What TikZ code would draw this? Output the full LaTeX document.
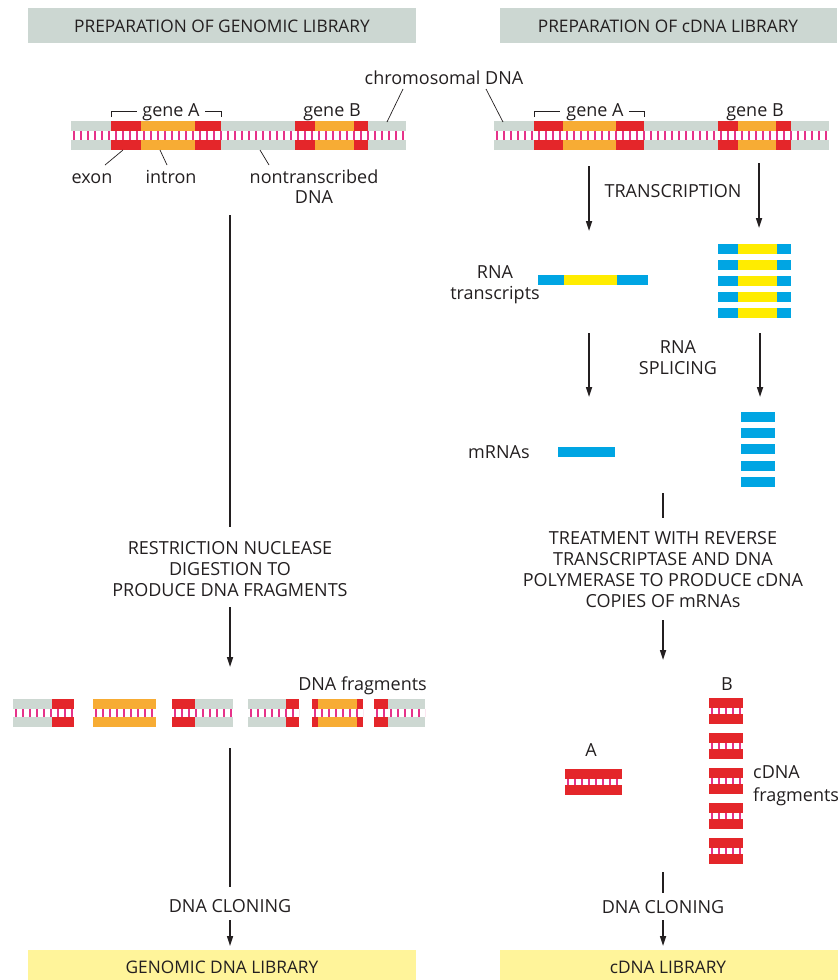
\documentclass[tikz,border=0pt]{standalone}
\usepackage{fontspec}
\setmainfont{Open Sans}
\usetikzlibrary{arrows.meta}
\definecolor{gband}{HTML}{CDD8D2}
\definecolor{exred}{HTML}{E4262A}
\definecolor{inorange}{HTML}{F7AC34}
\definecolor{rnablue}{HTML}{00A5E3}
\definecolor{rnayellow}{HTML}{FFEC00}
\definecolor{hdrgray}{HTML}{CCD7D2}
\definecolor{libyellow}{HTML}{FFF49A}
\definecolor{tickpink}{HTML}{E6338A}
\definecolor{ink}{HTML}{231F20}
\newcommand\dnabar[6]{%
  \fill[#6] (#1,#3) rectangle (#2,#3+#4);
  \fill[#6] (#1,#3+#4+#5) rectangle (#2,#3+2*#4+#5);
  \fill[white] (#1,#3+#4) rectangle (#2,#3+#4+#5);
  \draw[tickpink, line width=#5pt, dash pattern=on 1.6pt off 5.4pt, dash phase=-2pt] (#1,#3+#4+#5/2) -- (#2,#3+#4+#5/2);
}
\newcommand\dnaseg[6]{%
  \fill[#6] (#1,#3) rectangle (#2,#3+#4);
  \fill[#6] (#1,#3+#4+#5) rectangle (#2,#3+2*#4+#5);
}
\begin{document}
\begin{tikzpicture}[x=1pt,y=-1pt,
  txt/.style={font=\fontsize{18}{21}\selectfont, text=ink, inner sep=0pt, align=center},
  htxt/.style={txt, font=\fontsize{17.3}{21}\selectfont},
  hdr/.style={fill=hdrgray},
  lib/.style={fill=libyellow},
  flow/.style={draw=ink, line width=1.6pt},
  flowarrow/.style={flow, -{Triangle[length=10pt,width=6pt]}},
  lead/.style={draw=ink, line width=0.7pt},
  brk/.style={draw=ink, line width=1pt}]
\useasboundingbox (0,0) rectangle (840,980);
% headers
\fill[hdr] (28,8) rectangle (416,43);
\node[htxt] (hL) at (222,26) {PREPARATION OF GENOMIC LIBRARY};
\fill[hdr] (500,8) rectangle (837,43);
\node[htxt] (hR) at (668,26) {PREPARATION OF cDNA LIBRARY};
% bottom boxes
\fill[lib] (28,950) rectangle (416,980);
\node[htxt] (bL) at (222,967) {GENOMIC DNA LIBRARY};
\fill[lib] (500,950) rectangle (838,980);
\node[htxt] (bR) at (668,967) {cDNA LIBRARY};

% chromosomal DNA left
\dnabar{71}{406}{121}{10}{9}{gband}
\dnaseg{111}{141}{121}{10}{9}{exred}
\dnaseg{141}{195}{121}{10}{9}{inorange}
\dnaseg{195}{221}{121}{10}{9}{exred}
\dnaseg{295}{315}{121}{10}{9}{exred}
\dnaseg{315}{354}{121}{10}{9}{inorange}
\dnaseg{354}{368}{121}{10}{9}{exred}
% chromosomal DNA right
\dnabar{494}{829}{121}{10}{9}{gband}
\dnaseg{534}{563}{121}{10}{9}{exred}
\dnaseg{563}{616}{121}{10}{9}{inorange}
\dnaseg{616}{644}{121}{10}{9}{exred}
\dnaseg{718}{738}{121}{10}{9}{exred}
\dnaseg{738}{776}{121}{10}{9}{inorange}
\dnaseg{776}{791}{121}{10}{9}{exred}

% gene labels and brackets
\node[txt, anchor=base] (gAL) at (171,116) {gene A};
\node[txt, anchor=base] (gBL) at (332,116) {gene B};
\node[txt, anchor=base] (gAR) at (595,116) {gene A};
\node[txt, anchor=base] (gBR) at (755,116) {gene B};
\draw[brk] (111,117) -- (111,111) -- (137,111);
\draw[brk] (205,111) -- (221,111) -- (221,117);
\draw[brk] (534,117) -- (534,111) -- (560,111);
\draw[brk] (629,111) -- (644,111) -- (644,117);

% chromosomal DNA label
\node[txt, anchor=base] (chr) at (444,84) {chromosomal DNA};
\coordinate (chrL1) at (403,89); \coordinate (chrL2) at (387,122);
\coordinate (chrR1) at (486,89); \coordinate (chrR2) at (503,122);
\draw[lead] (chrL1) -- (chrL2);
\draw[lead] (chrR1) -- (chrR2);

% exon / intron / nontranscribed
\node[txt, anchor=base] (exon) at (92,183) {exon};
\node[txt, anchor=base] (intron) at (171,183) {intron};
\node[txt, anchor=base] (nontr) at (314,183) {nontranscribed};
\node[txt, anchor=base] (ntdna) at (314,203) {DNA};
\coordinate (ex1) at (105,165); \coordinate (ex2) at (123,150);
\coordinate (in1) at (167,165); \coordinate (in2) at (160,150);
\coordinate (nt1) at (269,165); \coordinate (nt2) at (260,150);
\draw[lead] (ex1) -- (ex2);
\draw[lead] (in1) -- (in2);
\draw[lead] (nt1) -- (nt2);

% ---------- left column flow ----------
\coordinate (l1a) at (230,215); \coordinate (l1b) at (230,527);
\draw[flow] (l1a) -- (l1b);
\node[txt] (restr) at (230,569) {RESTRICTION NUCLEASE\\DIGESTION TO\\PRODUCE DNA FRAGMENTS};
\coordinate (l2a) at (230,607); \coordinate (l2b) at (230,667);
\draw[flowarrow] (l2a) -- (l2b);

% DNA fragments
\node[txt, anchor=base east] (dnafr) at (427,690) {DNA fragments};
\dnabar{13}{74}{699}{10}{8}{gband}
\dnaseg{52}{74}{699}{10}{8}{exred}
\dnabar{93}{156}{699}{10}{8}{inorange}
\dnabar{172}{233}{699}{10}{8}{gband}
\dnaseg{172}{195}{699}{10}{8}{exred}
\dnabar{248}{299}{699}{10}{8}{gband}
\dnaseg{286}{299}{699}{10}{8}{exred}
\dnabar{312}{363}{699}{10}{8}{inorange}
\dnaseg{312}{318}{699}{10}{8}{exred}
\dnaseg{357}{363}{699}{10}{8}{exred}
\dnabar{374}{425}{699}{10}{8}{gband}
\dnaseg{374}{388}{699}{10}{8}{exred}

\coordinate (l3a) at (230,748); \coordinate (l3b) at (230,887);
\draw[flow] (l3a) -- (l3b);
\node[txt] (cloneL) at (230,906) {DNA CLONING};
\coordinate (l4a) at (230,920); \coordinate (l4b) at (230,946);
\draw[flowarrow] (l4a) -- (l4b);

% ---------- right column flow ----------
\coordinate (r1a) at (589,166); \coordinate (r1b) at (589,231);
\coordinate (r2a) at (759,163); \coordinate (r2b) at (759,228);
\draw[flowarrow] (r1a) -- (r1b);
\draw[flowarrow] (r2a) -- (r2b);
\node[txt] (transc) at (673,191) {TRANSCRIPTION};

% RNA transcripts
\node[txt, anchor=base] (rnat1) at (495,278) {RNA};
\node[txt, anchor=base] (rnat2) at (495,299) {transcripts};
\fill[rnablue] (538,275) rectangle (564,285);
\fill[rnayellow] (564,275) rectangle (617,285);
\fill[rnablue] (617,275) rectangle (648,285);
\foreach \yy in {244,260,276,292,308}{
  \fill[rnablue] (718,\yy) rectangle (738,\yy+10);
  \fill[rnayellow] (738,\yy) rectangle (777,\yy+10);
  \fill[rnablue] (777,\yy) rectangle (791,\yy+10);
}

\coordinate (r3a) at (589,333); \coordinate (r3b) at (589,397);
\coordinate (r4a) at (760,333); \coordinate (r4b) at (760,397);
\draw[flowarrow] (r3a) -- (r3b);
\draw[flowarrow] (r4a) -- (r4b);
\node[txt] (splice) at (678,358) {RNA\\SPLICING};

% mRNAs
\node[txt, anchor=west] (mrna) at (468,452) {mRNAs};
\fill[rnablue] (558,447) rectangle (615,457);
\foreach \yy in {412,428,444,461,477}{
  \fill[rnablue] (741,\yy) rectangle (775,\yy+10);
}

\coordinate (r5a) at (663,493); \coordinate (r5b) at (663,518);
\draw[flow] (r5a) -- (r5b);
\node[txt] (treat) at (663,570) {TREATMENT WITH REVERSE\\TRANSCRIPTASE AND DNA\\POLYMERASE TO PRODUCE cDNA\\COPIES OF mRNAs};
\coordinate (r6a) at (663,620); \coordinate (r6b) at (663,660);
\draw[flowarrow] (r6a) -- (r6b);

% cDNA fragments
\node[txt] (lblA) at (591,750) {A};
\node[txt] (lblB) at (727,684) {B};
\dnabar{565}{622}{769}{10}{6}{exred}
\foreach \yy in {698,733,768,803,838}{
  \dnabar{709}{743}{\yy}{10}{6}{exred}
}
\node[txt, anchor=base west] (cdnafr1) at (753,778) {cDNA};
\node[txt, anchor=base west] (cdnafr2) at (753,801) {fragments};

\coordinate (r7a) at (663,872); \coordinate (r7b) at (663,893);
\draw[flow] (r7a) -- (r7b);
\node[txt] (cloneR) at (663,907) {DNA CLONING};
\coordinate (r8a) at (663,920); \coordinate (r8b) at (663,946);
\draw[flowarrow] (r8a) -- (r8b);
\end{tikzpicture}
\end{document}
